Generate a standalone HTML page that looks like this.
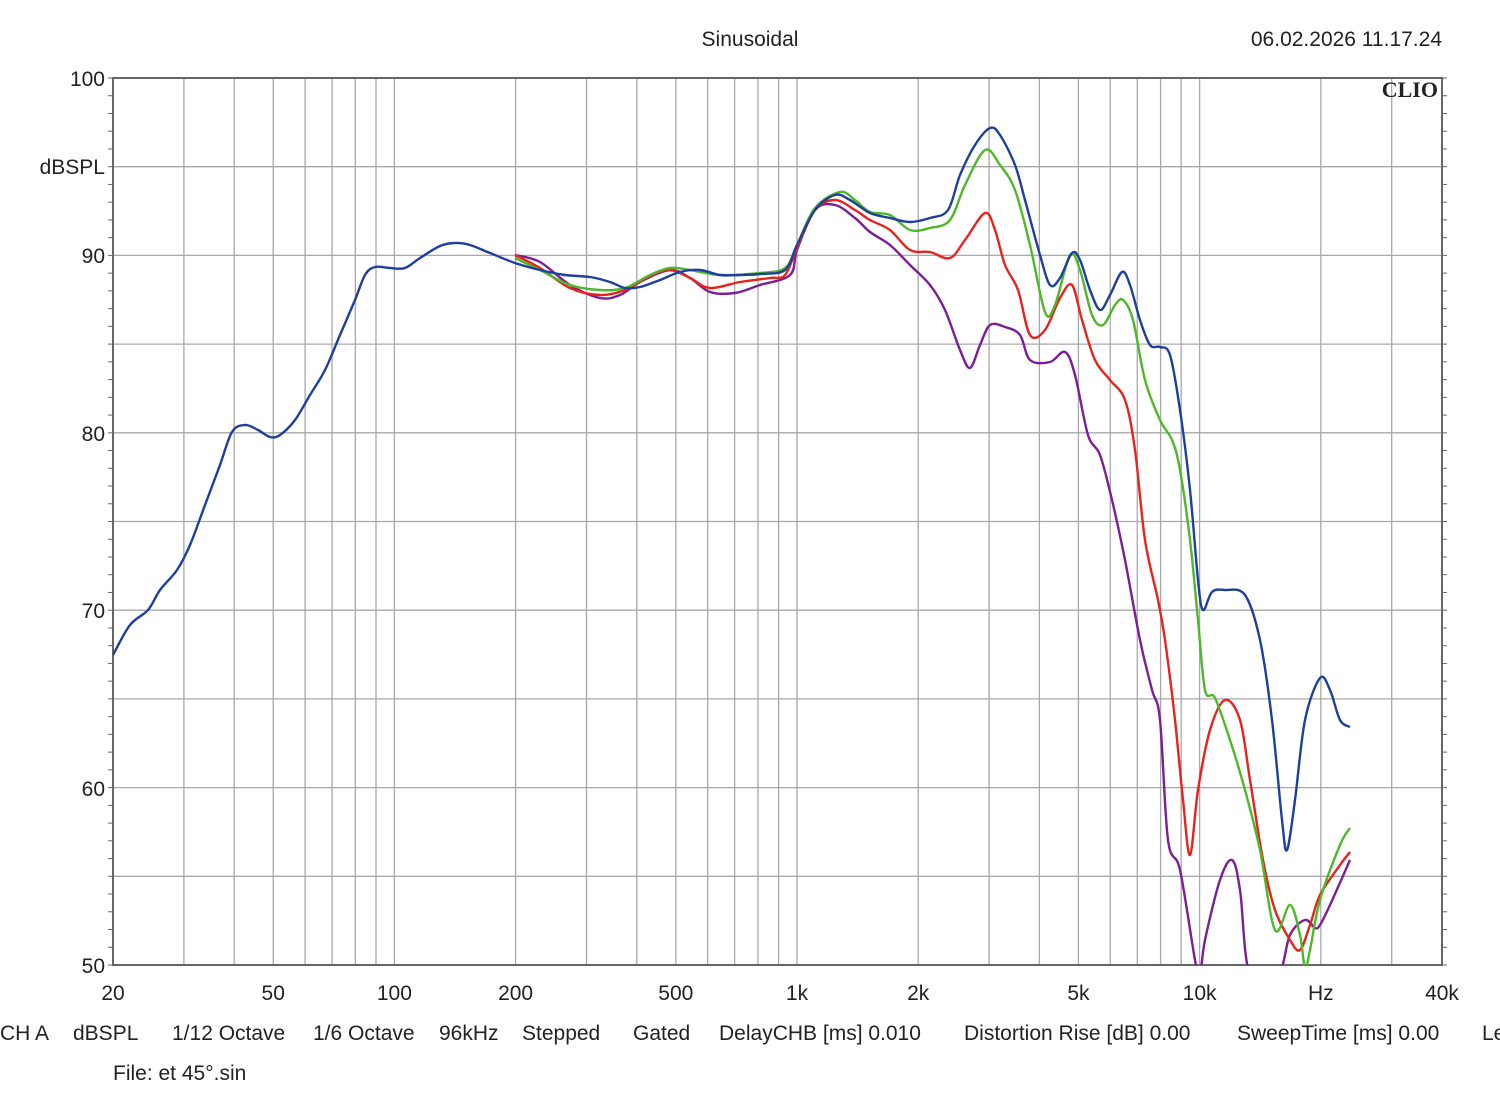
<!DOCTYPE html>
<html><head><meta charset="utf-8"><style>
html,body{margin:0;padding:0;background:#fff;}
body{width:1500px;height:1110px;overflow:hidden;font-family:"Liberation Sans",sans-serif;}
svg text{font-family:"Liberation Sans",sans-serif;font-size:21px;fill:#222;}
</style></head><body>
<svg id="s" width="1500" height="1110" xmlns="http://www.w3.org/2000/svg">
<defs><clipPath id="c"><rect x="113" y="78" width="1329" height="887"/></clipPath></defs>
<g id="grid"></g>
<rect x="113" y="78" width="1329" height="887" fill="none" stroke="#666" stroke-width="2"/>
<g id="curves" clip-path="url(#c)" fill="none" stroke-width="2.4" stroke-linejoin="round"></g>
<text x="750" y="46" text-anchor="middle">Sinusoidal</text>
<text x="1442" y="46" text-anchor="end">06.02.2026 11.17.24</text>
<text x="1438" y="97" text-anchor="end" style="font-family:'Liberation Serif',serif;font-weight:bold;font-size:22px">CLIO</text>
<text x="105" y="86" text-anchor="end">100</text>
<text x="105" y="174" text-anchor="end">dBSPL</text>
<text x="105" y="263" text-anchor="end">90</text>
<text x="105" y="441" text-anchor="end">80</text>
<text x="105" y="618" text-anchor="end">70</text>
<text x="105" y="796" text-anchor="end">60</text>
<text x="105" y="973" text-anchor="end">50</text>
<g id="xl" text-anchor="middle"></g>
<text x="0" y="1040">CH A</text>
<text x="73" y="1040">dBSPL</text>
<text x="172" y="1040">1/12 Octave</text>
<text x="313" y="1040">1/6 Octave</text>
<text x="439" y="1040">96kHz</text>
<text x="522" y="1040">Stepped</text>
<text x="633" y="1040">Gated</text>
<text x="719" y="1040">DelayCHB [ms] 0.010</text>
<text x="964" y="1040">Distortion Rise [dB] 0.00</text>
<text x="1237" y="1040">SweepTime [ms] 0.00</text>
<text x="1482" y="1040">Le</text>
<text x="113" y="1080">File: et 45°.sin</text>
</svg>
<script>
var ns="http://www.w3.org/2000/svg";
function X(f){return 113+402.6*Math.log10(f/20);}
var g=document.getElementById('grid');
function line(x1,y1,x2,y2,c,w){var l=document.createElementNS(ns,'line');l.setAttribute('x1',x1);l.setAttribute('y1',y1);l.setAttribute('x2',x2);l.setAttribute('y2',y2);l.setAttribute('stroke',c);l.setAttribute('stroke-width',w);g.appendChild(l);}
var fs=[30,40,50,60,70,80,90,100,200,300,400,500,600,700,800,900,1000,2000,3000,4000,5000,6000,7000,8000,9000,10000,20000,30000];
fs.forEach(function(f){line(X(f),78,X(f),965,'#a8a8a8',1.3);});
for(var i=1;i<10;i++){var y=78+i*88.7;line(113,y,1442,y,'#a8a8a8',1.3);}
for(var i=0;i<=50;i++){var y=78+i*17.74;line(108,y,113,y,'#666',1);line(1442,y,1447,y,'#666',1);}
var xl=document.getElementById('xl');
[[20,'20'],[50,'50'],[100,'100'],[200,'200'],[500,'500'],[1000,'1k'],[2000,'2k'],[5000,'5k'],[10000,'10k'],[20000,'Hz'],[40000,'40k']].forEach(function(a){var t=document.createElementNS(ns,'text');t.setAttribute('x',X(a[0]));t.setAttribute('y',1000);t.textContent=a[1];xl.appendChild(t);});
var C={
'#1f3f9f':[[113,655],[130,625],[148,610],[160,590],[177,570],[190,545],[205,505],[220,465],[232,432],[245,425],[258,430],[270,437],[280,435],[295,420],[310,395],[325,370],[340,335],[355,300],[365,275],[375,267],[390,268],[405,268],[420,258],[440,246],[455,243],[470,245],[490,253],[515,263],[540,270],[565,275],[590,277],[610,282],[625,288],[640,287],[660,280],[680,272],[700,270],[720,275],[740,275],[760,274],[785,270],[797,245],[815,210],[835,195],[850,200],[870,213],[890,218],[910,222],[930,218],[948,210],[960,175],[975,145],[990,128],[1000,135],[1015,165],[1025,200],[1040,255],[1050,285],[1060,278],[1072,253],[1080,260],[1090,290],[1100,310],[1110,295],[1122,272],[1130,285],[1140,320],[1150,345],[1160,347],[1170,355],[1180,410],[1190,490],[1198,580],[1203,610],[1212,592],[1225,590],[1245,595],[1260,640],[1272,720],[1282,820],[1287,850],[1295,800],[1305,720],[1320,678],[1330,690],[1340,720],[1350,727]],
'#4fb82a':[[515,258],[540,270],[570,285],[600,290],[625,288],[650,275],[670,268],[690,270],[720,275],[760,273],[785,268],[797,245],[815,208],[840,192],[855,200],[870,212],[890,215],[910,230],[930,228],[950,220],[965,185],[985,150],[1000,165],[1015,190],[1030,245],[1045,312],[1055,305],[1070,255],[1080,270],[1092,315],[1103,325],[1115,305],[1123,300],[1133,320],[1145,380],[1160,420],[1172,440],[1180,470],[1190,540],[1198,620],[1205,690],[1215,698],[1230,740],[1245,790],[1260,850],[1275,930],[1290,905],[1300,935],[1305,968],[1310,950],[1320,900],[1340,845],[1350,828]],
'#e8221c':[[515,255],[540,268],[570,288],[600,295],[625,290],[650,276],[670,270],[690,278],[710,288],[740,282],[770,278],[785,275],[797,248],[815,210],[835,200],[855,210],[870,220],[890,230],[910,250],[930,252],[950,258],[965,240],[985,213],[995,230],[1005,265],[1018,290],[1030,335],[1045,330],[1060,298],[1072,285],[1082,320],[1095,360],[1110,380],[1125,400],[1135,450],[1145,540],[1158,600],[1165,640],[1175,720],[1183,800],[1190,855],[1198,790],[1210,730],[1225,700],[1240,720],[1250,780],[1263,860],[1275,910],[1290,940],[1300,950],[1310,925],[1320,895],[1340,865],[1350,852]],
'#7a1f95':[[515,255],[540,262],[570,285],[600,298],[620,295],[640,282],[670,270],[690,278],[710,292],[735,293],[760,285],[790,275],[797,250],[815,210],[835,205],[855,218],[870,232],[890,245],[910,265],[930,285],[945,310],[960,350],[970,368],[980,345],[990,325],[1005,327],[1020,335],[1030,360],[1050,362],[1065,352],[1075,375],[1088,435],[1100,455],[1112,500],[1125,560],[1140,640],[1152,690],[1160,720],[1168,840],[1180,870],[1195,960],[1200,975],[1205,940],[1220,880],[1232,860],[1240,890],[1250,975],[1278,975],[1290,935],[1305,920],[1315,928],[1320,925],[1330,905],[1350,860]]
};
var cg=document.getElementById('curves');
['#7a1f95','#e8221c','#4fb82a','#1f3f9f'].forEach(function(col){
var p=C[col],d='M'+p[0][0]+','+p[0][1];
for(var i=0;i<p.length-1;i++){var p0=p[i-1]||p[i],p1=p[i],p2=p[i+1],p3=p[i+2]||p2;
d+=' C'+(p1[0]+(p2[0]-p0[0])/6)+','+(p1[1]+(p2[1]-p0[1])/6)+' '+(p2[0]-(p3[0]-p1[0])/6)+','+(p2[1]-(p3[1]-p1[1])/6)+' '+p2[0]+','+p2[1];}
var e=document.createElementNS(ns,'path');e.setAttribute('d',d);e.setAttribute('stroke',col);cg.appendChild(e);});
</script>
</body></html>
